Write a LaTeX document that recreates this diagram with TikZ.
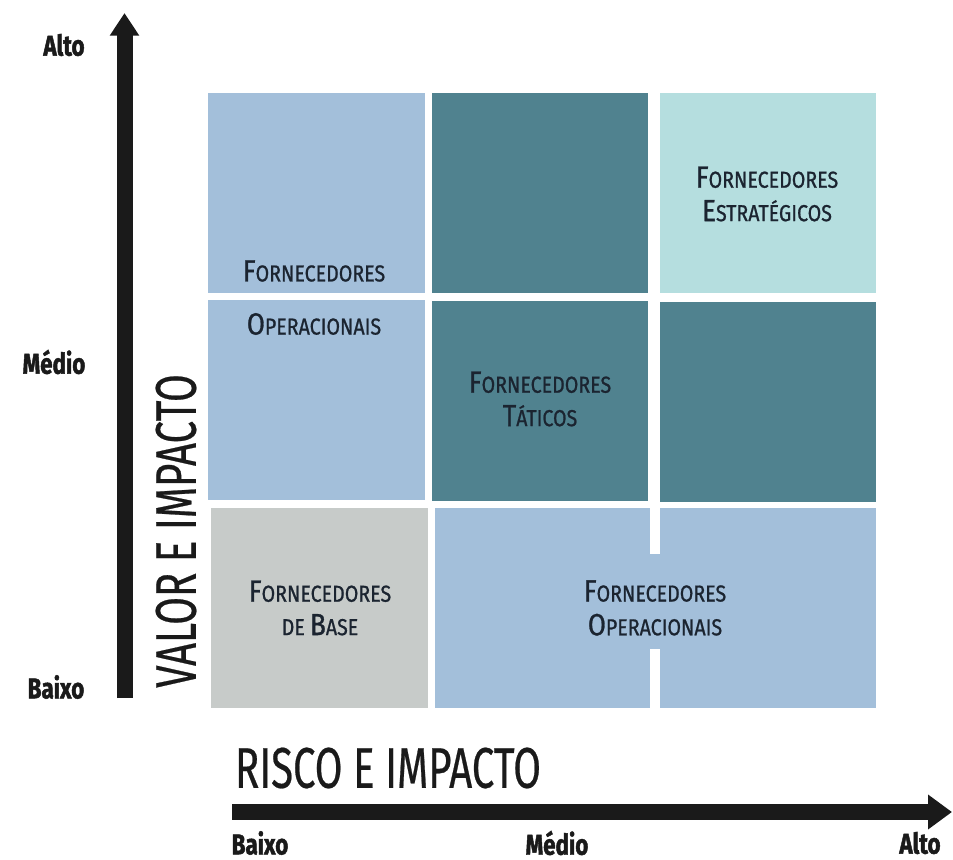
\documentclass[tikz,border=0pt]{standalone}
\usepackage{fontspec}
\usetikzlibrary{arrows.meta}
\setmainfont{Fira Sans}
\newfontfamily\cellfont[FakeStretch=0.85,FakeBold=0.9]{Fira Sans}
\newfontfamily\titlefont[FakeStretch=0.7,FakeBold=0.4]{Fira Sans}
\newfontfamily\tickfont[FakeStretch=0.78,FakeBold=1.6]{Fira Sans Bold}

\definecolor{opblue}{HTML}{A3BFDA}
\definecolor{tatteal}{HTML}{50828F}
\definecolor{estcyan}{HTML}{B5DEDF}
\definecolor{basegray}{HTML}{C7CBC9}
\definecolor{inkdark}{HTML}{1B2430}
\definecolor{axisblack}{HTML}{1A1A1A}

% small-caps style word: large initial, smaller remainder
\newcommand{\capword}[2]{{\fontsize{23}{23}\selectfont #1}{\fontsize{17.3}{17.3}\selectfont #2}}

\tikzset{
  celltext/.style={font=\cellfont, text=inkdark, align=center, inner sep=0pt},
  axistitle/.style={font=\titlefont\fontsize{43}{43}\selectfont, text=axisblack, inner sep=0pt},
  ticklabel/.style={font=\tickfont\fontsize{21.5}{21.5}\selectfont, text=axisblack, inner sep=0pt},
  axisline/.style={draw=axisblack, line width=12pt},
}

\begin{document}
\begin{tikzpicture}[x=0.75pt,y=-0.75pt]
  \useasboundingbox[fill=white] (0,0) rectangle (953,860);

  % ---- matrix cells ----
  % top row
  \fill[opblue]  (208,93) rectangle (425,293);
  \fill[tatteal] (432,93) rectangle (648,293);
  \fill[estcyan] (660,93) rectangle (876,293);
  % middle row
  \fill[opblue]  (208,300) rectangle (425,500);
  \fill[tatteal] (432,301) rectangle (648,501);
  \fill[tatteal] (660,302) rectangle (876,502);
  % bottom row
  \fill[basegray] (211,508) rectangle (428,708);
  \fill[opblue]   (435,508) rectangle (650,708);
  \fill[opblue]   (660,508) rectangle (876,708);
  \fill[opblue]   (649,554) rectangle (661,649);

  % ---- cell labels ----
  \node[celltext] (opTopA) at (314,271) {\capword{F}{ORNECEDORES}};
  \node[celltext] (opTopB) at (314,324) {\capword{O}{PERACIONAIS}};
  \node[celltext] (estr) at (767,194) {\capword{F}{ORNECEDORES}\\[8pt]\capword{E}{STRATÉGICOS}};
  \node[celltext] (tat) at (540,399) {\capword{F}{ORNECEDORES}\\[8pt]\capword{T}{ÁTICOS}};
  \node[celltext] (base) at (320,608) {\capword{F}{ORNECEDORES}\\[8pt]{\fontsize{17.3}{17.3}\selectfont DE }\capword{B}{ASE}};
  \node[celltext] (opBot) at (655,608) {\capword{F}{ORNECEDORES}\\[8pt]\capword{O}{PERACIONAIS}};

  % ---- vertical axis ----
  \coordinate (yBottom) at (124.5,698);
  \coordinate (yTop) at (124.5,13);
  \draw[axisline, -{Triangle[width=21pt,length=17pt]}] (yBottom) -- (yTop);
  \node[ticklabel] (yHigh) at (64,45) {Alto};
  \node[ticklabel] (yMid) at (54,362) {Médio};
  \node[ticklabel] (yLow) at (56,687) {Baixo};
  \node[axistitle, rotate=90] (yTitle) at (176,531) {VALOR E IMPACTO};

  % ---- horizontal axis ----
  \coordinate (xLeft) at (232,812);
  \coordinate (xRight) at (952,812);
  \draw[axisline, -{Triangle[width=25pt,length=18pt]}] (xLeft) -- (xRight);
  \node[axistitle] (xTitle) at (388,768) {RISCO E IMPACTO};
  \node[ticklabel] (xLow) at (260,843) {Baixo};
  \node[ticklabel] (xMid) at (557,843) {Médio};
  \node[ticklabel] (xHigh) at (920,843) {Alto};
\end{tikzpicture}
\end{document}
